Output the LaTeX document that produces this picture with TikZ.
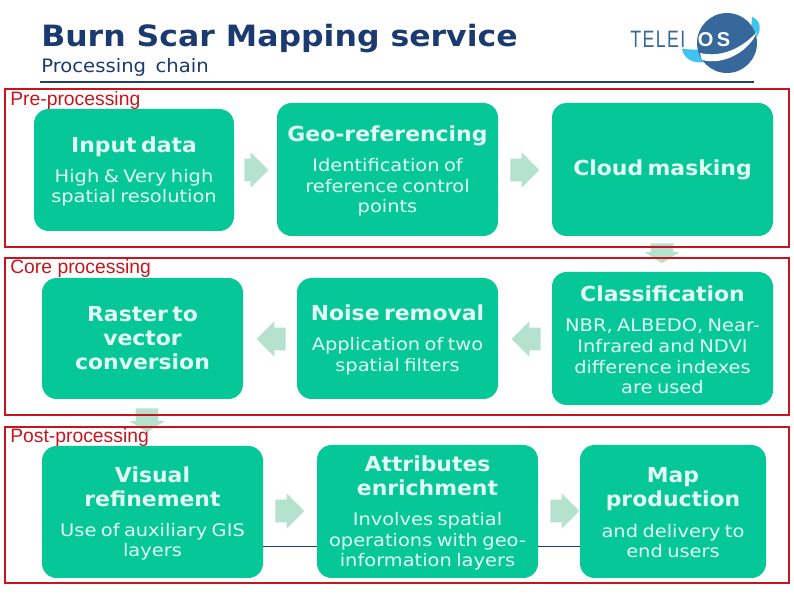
\documentclass[tikz,border=0pt]{standalone}
\usepackage{xcolor}
\usepackage{fontspec}
\setmainfont{DejaVu Sans}
\newfontfamily\labelfont{Liberation Sans}
\newfontfamily\headface[FakeStretch=1.075]{DejaVu Sans}
\newfontfamily\titleface[FakeStretch=1.06,WordSpace=1.5]{DejaVu Sans}
\newfontfamily\bodyface[FakeStretch=1.12]{DejaVu Sans}
\newfontfamily\logoface[FakeStretch=0.75,LetterSpace=6]{Liberation Sans}
\usetikzlibrary{shapes.arrows,positioning}
\definecolor{boxgreen}{HTML}{06C798}
\definecolor{boxtext}{HTML}{E2FBF4}
\definecolor{arrowgreen}{HTML}{B5E2CF}
\definecolor{framered}{HTML}{C8141C}
\definecolor{titlenavy}{HTML}{1B3A70}
\definecolor{rulenavy}{HTML}{1F4068}
\definecolor{logoblue}{HTML}{36689C}
\definecolor{logocyan}{HTML}{3FC4F0}
\newcommand{\boxtitle}[1]{{\titleface\fontsize{15.5}{18}\selectfont\bfseries #1\par}}
\newcommand{\boxbody}[1]{{\vspace{7pt}\bodyface\fontsize{13}{15.6}\selectfont #1\par\vspace{-2.2pt}}}
\tikzset{
  procbox/.style 2 args={fill=boxgreen,rounded corners=11pt,text=boxtext,align=center,inner sep=0pt,
    text width=#1,minimum height=#2},
  flowarrow/.style={single arrow,fill=arrowgreen,inner xsep=0pt,inner ysep=8.25pt,minimum width=26.25pt,
    single arrow head extend=4.8pt,anchor=tail,minimum height=21.75pt},
  smallarrow/.style={flowarrow,minimum height=18pt},
  downarrow/.style={flowarrow,single arrow tip angle=115,rotate=-90},
  stageframe/.style={draw=framered,line width=1.2pt},
  stagelabel/.style={text=framered,font=\labelfont\fontsize{14.5}{16}\selectfont,anchor=west,inner sep=0pt},
  busline/.style={draw=rulenavy,line width=1.1pt}
}
\begin{document}
\begin{tikzpicture}[x=0.75pt,y=-0.75pt]
  \useasboundingbox (0,0) rectangle (794,595);
  \node[anchor=west,inner sep=0pt,text=titlenavy,font=\headface\fontsize{22}{25}\selectfont\bfseries] (title) at (41,39) {Burn Scar Mapping service};
  \node[anchor=west,inner sep=0pt,text=titlenavy,font=\titleface\fontsize{13.9}{16}\selectfont] (subtitle) at (41,67.5) {Processing chain};
  \coordinate (ruleleft) at (40,82);
  \coordinate (ruleright) at (754,82);
  \draw[busline] (ruleleft) -- (ruleright);
  % logo
  \fill[logocyan] (682,49) .. controls (684,60) and (695,64) .. (706,62) -- (702,50) -- cycle;
  \fill[logocyan] (752,17) .. controls (760,20) and (762,28) .. (757,37) -- (751,30) -- cycle;
  \fill[logoblue] (727,43) circle (22.5pt);
  \fill[white] (700,53) .. controls (722,58) and (742,48) .. (757,32) .. controls (750,50) and (725,66) .. (702,60) -- cycle;
  \node[anchor=west,inner sep=0pt,text=logoblue,font=\logoface\fontsize{17.8}{18}\selectfont] (logoa) at (630,39) {TELEI};
  \node[inner sep=0pt,text=white,font=\labelfont\fontsize{15}{16}\selectfont\bfseries] (logob) at (714,40) {O\,S};
  % arrows go under the frames
  \node[smallarrow] (arra) at (244,170) {};
  \node[flowarrow] (arrb) at (510,170) {};
  \node[downarrow,minimum height=15pt] (arrc) at (662,243) {};
  \node[flowarrow,rotate=180] (arrd) at (541,339) {};
  \node[flowarrow,rotate=180] (arre) at (286,339) {};
  \node[downarrow,minimum height=18pt] (arrf) at (147,408) {};
  \node[flowarrow] (arrg) at (275,511) {};
  \node[flowarrow] (arrh) at (550,511) {};
  % frames
  \draw[stageframe] (5,89) rectangle (789,247);
  \draw[stageframe] (5,258) rectangle (789,415);
  \draw[stageframe] (5,427) rectangle (789,583);
  \node[stagelabel] (pre) at (10,100.5) {Pre-processing};
  \node[stagelabel] (core) at (10,268.5) {Core processing};
  \node[stagelabel] (post) at (10,437.5) {Post-processing};
  % boxes
  \node[procbox={150pt}{91.5pt}] (input) at (134,170) {\boxtitle{Input data}\boxbody{High \& Very high\\spatial resolution}};
  \node[procbox={165.75pt}{99.75pt}] (georef) at (387.5,169.5) {\boxtitle{Geo-referencing}\boxbody{Identification of\\reference control\\points}};
  \node[procbox={165.75pt}{99.75pt}] (cloud) at (662.5,169.5) {\boxtitle{Cloud masking}};
  \node[procbox={150.75pt}{90.75pt}] (raster) at (142.5,338.5) {\boxtitle{Raster to\\vector\\conversion}};
  \node[procbox={150.75pt}{90.75pt}] (noise) at (397.5,338.5) {\boxtitle{Noise removal}\boxbody{Application of two\\spatial filters}};
  \node[procbox={165.75pt}{99.75pt}] (class) at (662.5,338.5) {\boxtitle{Classification}\boxbody{NBR, ALBEDO, Near-\\Infrared and NDVI\\difference indexes\\are used}};
  \node[procbox={165.75pt}{99pt}] (visual) at (152.5,512) {\boxtitle{Visual\\refinement}\boxbody{Use of auxiliary GIS\\layers}};
  \node[procbox={165.75pt}{99.75pt}] (attr) at (427.5,511.5) {\boxtitle{Attributes\\enrichment}\boxbody{Involves spatial\\operations with geo-\\information layers}};
  \node[procbox={139.5pt}{99.75pt}] (map) at (673,511.5) {\boxtitle{Map\\production}\boxbody{and delivery to\\end users}};
  \draw[busline] ([yshift=-25.9pt]visual.east) -- ([yshift=-26.275pt]attr.west);
  \draw[busline] ([yshift=-26.275pt]attr.east) -- ([yshift=-26.275pt]map.west);
\end{tikzpicture}
\end{document}
